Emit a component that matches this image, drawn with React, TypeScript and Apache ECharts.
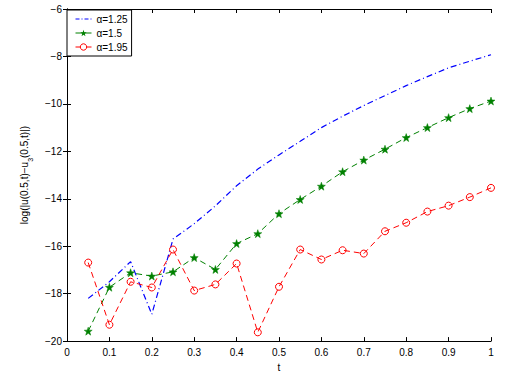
import React, { useEffect, useRef } from "react";
import * as echarts from "echarts";

const tValues = [0.05, 0.1, 0.15, 0.2, 0.25, 0.3, 0.35, 0.4, 0.45, 0.5, 0.55, 0.6, 0.65, 0.7, 0.75, 0.8, 0.85, 0.9, 0.95, 1.0];
const alpha125 = [-18.2, -17.5, -16.65, -18.87, -15.7, -15.05, -14.3, -13.45, -12.75, -12.15, -11.58, -11.0, -10.52, -10.07, -9.65, -9.23, -8.85, -8.48, -8.2, -7.93];
const alpha15 = [-19.58, -17.73, -17.12, -17.26, -17.08, -16.48, -16.98, -15.89, -15.47, -14.63, -14.03, -13.47, -12.86, -12.37, -11.91, -11.42, -11.0, -10.58, -10.2, -9.88];
const alpha195 = [-16.69, -19.31, -17.5, -17.74, -16.14, -17.87, -17.61, -16.73, -19.63, -17.71, -16.14, -16.56, -16.17, -16.31, -15.37, -15.01, -14.54, -14.29, -13.93, -13.54];
const seriesNames = ["α=1.25", "α=1.5", "α=1.95"];

const STAR = "path://M0,-10 L2.35,-3.24 L9.51,-3.09 L3.8,1.24 L5.88,8.09 L0,4 L-5.88,8.09 L-3.8,1.24 L-9.51,-3.09 L-2.35,-3.24 Z";
const FONT = "Liberation Sans";
const BLUE = "#0000ff";
const GREEN = "#008000";
const RED = "#ff0000";

export default function App() {
  const ref = useRef<HTMLDivElement>(null);
  useEffect(() => {
    document.body.style.margin = "0";
    const chart = echarts.init(ref.current!, null, { renderer: "svg" });
    const pair = (arr: number[]) => arr.map((v, i) => [tValues[i], v]);
    const axisCommon = {
      axisLine: { show: true, lineStyle: { color: "#000", width: 1 } },
      axisTick: { show: true, inside: true, length: 4, lineStyle: { color: "#000" } },
      splitLine: { show: false },
    };
    chart.setOption({
      animation: false,
      backgroundColor: "#fff",
      textStyle: { fontFamily: FONT },
      grid: { left: 67, top: 9, right: 31, bottom: 34 },
      legend: {
        orient: "vertical",
        left: 67,
        top: 10,
        backgroundColor: "#fff",
        borderColor: "#000",
        borderWidth: 1,
        borderRadius: 0,
        padding: [4, 4, 4, 8],
        itemGap: 4,
        itemWidth: 16,
        itemHeight: 8,
        textStyle: { fontFamily: FONT, fontSize: 10, color: "#000" },
        data: [
          {
            name: seriesNames[0],
            itemStyle: { color: "rgba(0,0,0,0)", borderColor: "rgba(0,0,0,0)", borderWidth: 0 },
            lineStyle: { color: BLUE, width: 1, type: [4, 2, 1, 2] },
          },
          {
            name: seriesNames[1],
            itemStyle: { color: GREEN, borderColor: GREEN, borderWidth: 0 },
            lineStyle: { color: GREEN, width: 1, type: "solid" },
          },
          {
            name: seriesNames[2],
            itemStyle: { color: "#fff", borderColor: RED, borderWidth: 1 },
            lineStyle: { color: RED, width: 1, type: "solid" },
          },
        ],
      },
      xAxis: [
        {
          type: "value",
          min: 0,
          max: 1,
          interval: 0.1,
          name: "t",
          nameLocation: "middle",
          nameGap: 19,
          nameTextStyle: { fontFamily: FONT, fontSize: 10, color: "#000" },
          axisLabel: { fontFamily: FONT, fontSize: 10, color: "#000", margin: 6 },
          ...axisCommon,
        },
        {
          type: "value",
          position: "top",
          min: 0,
          max: 1,
          interval: 0.1,
          axisLabel: { show: false },
          ...axisCommon,
        },
      ],
      yAxis: [
        {
          type: "value",
          min: -20,
          max: -6,
          interval: 2,
          name: "{a|log(|u(0.5,t)−u}{s|3}{a|(0.5,t)|)}",
          nameLocation: "middle",
          nameGap: 33,
          nameTextStyle: {
            rich: {
              a: { fontFamily: FONT, fontSize: 10, color: "#000" },
              s: { fontFamily: FONT, fontSize: 7, color: "#000", verticalAlign: "bottom", padding: [0, 0, -5, 0] },
            },
          },
          axisLabel: {
            fontFamily: FONT,
            fontSize: 10,
            color: "#000",
            margin: 5,
            formatter: (v: number) => String(v).replace("-", "−"),
          },
          ...axisCommon,
        },
        {
          type: "value",
          position: "right",
          min: -20,
          max: -6,
          interval: 2,
          axisLabel: { show: false },
          ...axisCommon,
        },
      ],
      series: [
        {
          name: seriesNames[0],
          type: "line",
          data: pair(alpha125),
          symbol: "none",
          lineStyle: { color: BLUE, width: 1.2, type: [6, 3, 1, 3] },
          itemStyle: { color: BLUE },
        },
        {
          name: seriesNames[1],
          type: "line",
          data: pair(alpha15),
          symbol: STAR,
          symbolSize: 8,
          lineStyle: { color: GREEN, width: 1, type: [6, 4] },
          itemStyle: { color: GREEN, borderColor: GREEN, borderWidth: 0.5 },
        },
        {
          name: seriesNames[2],
          type: "line",
          data: pair(alpha195),
          symbol: "circle",
          symbolSize: 7,
          lineStyle: { color: RED, width: 1, type: [6, 4] },
          itemStyle: { color: "rgba(255,255,255,0)", borderColor: RED, borderWidth: 1 },
        },
      ],
    });
    return () => chart.dispose();
  }, []);
  return <div ref={ref} style={{ width: 522, height: 377 }} />;
}
